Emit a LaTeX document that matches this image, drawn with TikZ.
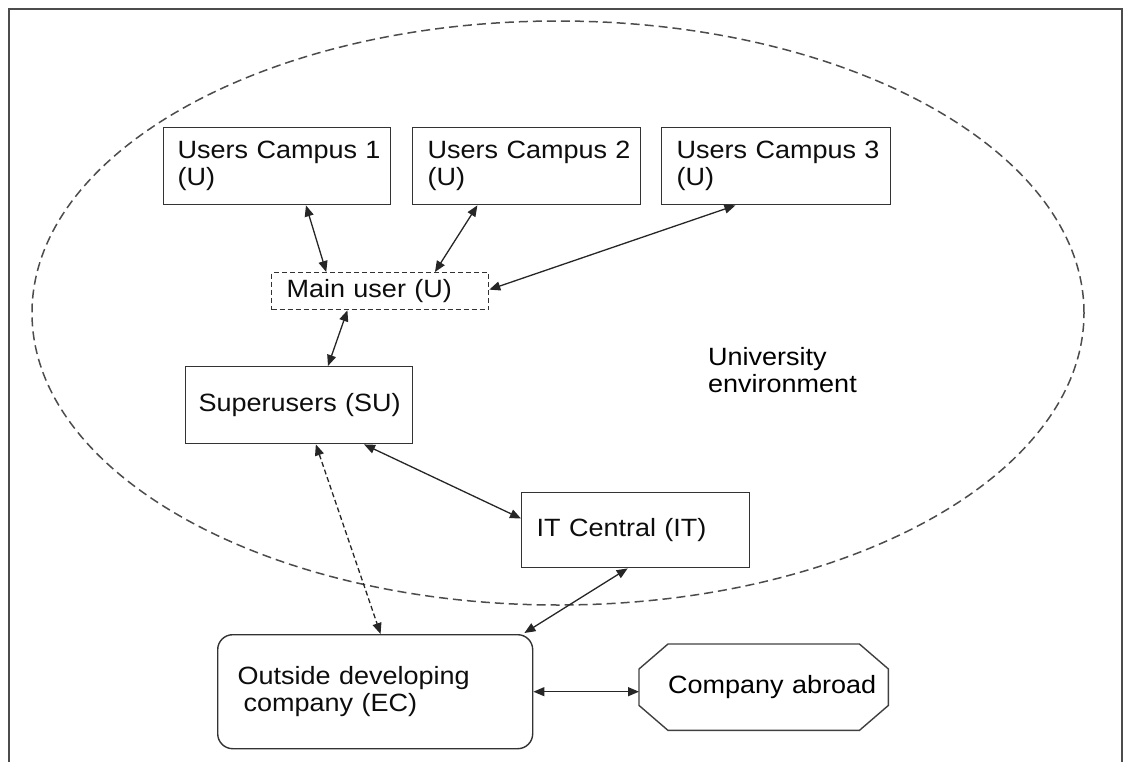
\documentclass[tikz,border=0pt]{standalone}
\usepackage{fontspec}
\setmainfont{Liberation Sans}[FakeStretch=1.08]
\usetikzlibrary{arrows.meta,calc}

\begin{document}
\begin{tikzpicture}[x=1pt,y=-1pt,
  font=\fontsize{25}{27}\selectfont,
  box/.style={draw=black!80, line width=1.4pt, rectangle, anchor=north west,
    inner ysep=0pt, align=left, text=black!95},
  link/.style={line width=1.3pt, draw=black!85, {Triangle[length=11pt,width=9pt]}-{Triangle[length=11pt,width=9pt]}},
  shapeline/.style={draw=black!75, line width=1.4pt},
]
\useasboundingbox (0,0) rectangle (1125,762);

% outer frame, open at the bottom
\draw[draw=black!70, line width=1.8pt] (9,762) -- (9,9) -- (1122,9) -- (1122,762);

% university environment boundary
\draw[draw=black!70, line width=1.5pt, dash pattern=on 9pt off 5pt]
  (558,313) ellipse [x radius=526pt, y radius=292pt];
\node[anchor=west, inner sep=0pt, align=left] (ue) at (708,370) {University\\environment};

% campus users
\node[box, text width=199pt, inner xsep=14pt, minimum height=77pt] (uc1) at (163,127) {\mbox{Users Campus 1}\\(U)};
\node[box, text width=198pt, inner xsep=15pt, minimum height=77pt] (uc2) at (412,127) {\mbox{Users Campus 2}\\(U)};
\node[box, text width=199pt, inner xsep=15pt, minimum height=77pt] (uc3) at (661,127) {\mbox{Users Campus 3}\\(U)};

% main user
\node[box, dash pattern=on 5pt off 3pt, line width=1.3pt, text width=187pt, inner xsep=15pt, minimum height=37pt] (main) at (271,272) {Main user (U)};

% superusers and IT
\node[box, text width=201pt, inner xsep=13pt, minimum height=77pt] (su) at (185,366) {\mbox{Superusers (SU)}};
\node[box, text width=198pt, inner xsep=15pt, minimum height=75pt] (it) at (521,492) {IT Central (IT)};

% outside developing company
\node[box, rounded corners=15pt, text width=275pt, inner xsep=20pt, minimum height=114pt] (ec) at (217,634) {Outside developing\\\hspace*{6pt}company (EC)};

% company abroad (octagon drawn around the node)
\node[anchor=north west, inner xsep=29pt, inner ysep=0pt, text width=191pt, minimum height=86pt, align=left] (ca) at (639,644) {\mbox{Company abroad}};
\draw[shapeline] ($(ca.north west)+(29,0)$) -- ($(ca.north east)+(-29,0)$)
  -- ($(ca.north east)+(0,25)$) -- ($(ca.south east)+(0,-25)$)
  -- ($(ca.south east)+(-29,0)$) -- ($(ca.south west)+(29,0)$)
  -- ($(ca.south west)+(0,-25)$) -- ($(ca.north west)+(0,25)$) -- cycle;

% connectors
\draw[link] ($(uc1.south west)!0.626!(uc1.south east)$) -- ($(main.north west)!0.253!(main.north east)$);
\draw[link] ($(uc2.south west)!0.285!(uc2.south east)$) -- ($(main.north west)!0.751!(main.north east)$);
\draw[link] ($(uc3.south west)!0.323!(uc3.south east)$) -- ($(main.north east)!0.46!(main.south east)$);
\draw[link] ($(main.south west)!0.35!(main.south east)$) -- ($(su.north west)!0.626!(su.north east)$);
\draw[link] ($(su.south west)!0.784!(su.south east)$) -- ($(it.north west)!0.347!(it.south west)$);
\draw[link, dash pattern=on 5pt off 3pt] ($(su.south west)!0.573!(su.south east)$) -- ($(ec.north west)!0.517!(ec.north east)$);
\draw[link] ($(it.south west)!0.465!(it.south east)$) -- ($(ec.north east)+(-9,-1)$);
\draw[link] (ec.east) -- (ec.east -| ca.west);
\end{tikzpicture}
\end{document}
